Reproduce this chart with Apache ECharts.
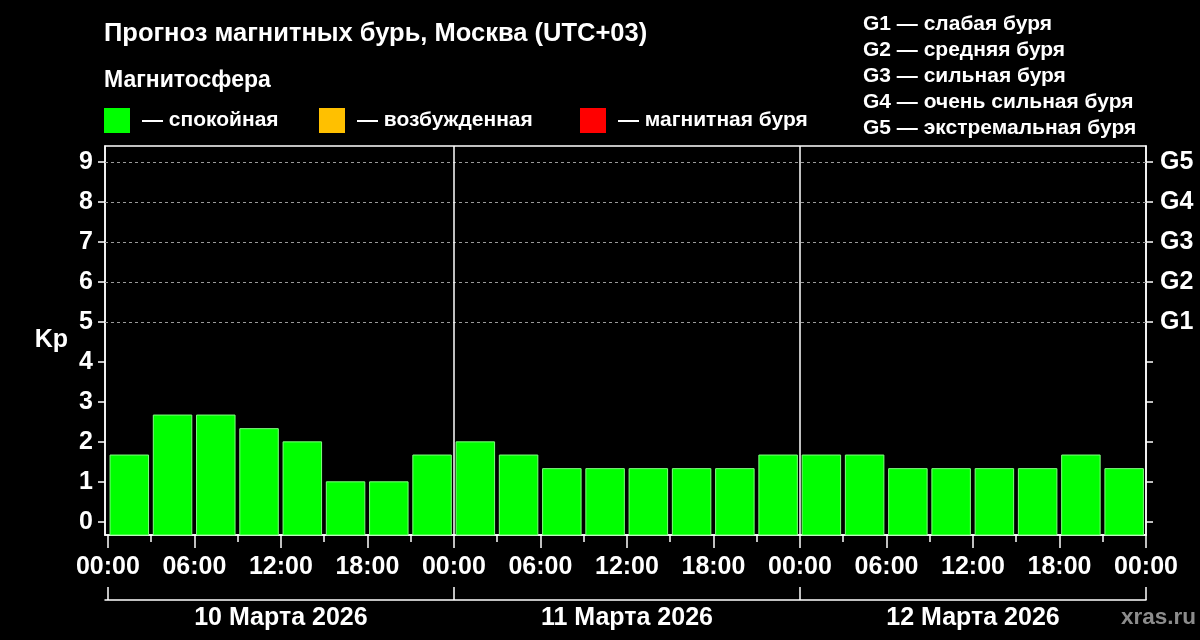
<!DOCTYPE html>
<html>
<head>
<meta charset="utf-8">
<script src="https://cdn.jsdelivr.net/npm/echarts@6/dist/echarts.min.js"></script>
<style>
  html, body { margin: 0; padding: 0; background: #000; }
  #chart { width: 1200px; height: 640px; }
</style>
</head>
<body>
<div id="chart"></div>
<script>
// Kp по трёхчасовым интервалам
const kpDay10 = [1.67, 2.67, 2.67, 2.33, 2.0, 1.0, 1.0, 1.67]
const kpDay11 = [2.0, 1.67, 1.33, 1.33, 1.33, 1.33, 1.33, 1.67]
const kpDay12 = [1.67, 1.67, 1.33, 1.33, 1.33, 1.33, 1.67, 1.33]
const dayLabels = ['10 Марта 2026', '11 Марта 2026', '12 Марта 2026']
const hourLabels = ['00:00', '06:00', '12:00', '18:00']
const kpTicks = [0, 1, 2, 3, 4, 5, 6, 7, 8, 9]
const gLevels = ['G1', 'G2', 'G3', 'G4', 'G5']
const gKp = [5, 6, 7, 8, 9]
const gNames = ['G1 — слабая буря', 'G2 — средняя буря', 'G3 — сильная буря', 'G4 — очень сильная буря', 'G5 — экстремальная буря']
const stateNames = ['— спокойная', '— возбужденная', '— магнитная буря']
const stateColors = ['#00ff00', '#ffc000', '#ff0000']

const font = "'Liberation Sans', Arial, sans-serif"
const xMin = -0.2
const xMax = 72
const yMin = -0.33
const yMax = 9.4

const allKp = kpDay10.concat(kpDay11, kpDay12)
const barData = allKp.map((v, i) => [i * 3, v])

const hourTicks = []
for (let h = 0; h <= 72; h += 6) hourTicks.push(h)
const minorTicks = []
for (let h = 3; h < 72; h += 6) minorTicks.push(h)
const dayEdges = [0, 24, 48, 72]
const dayCenters = [12, 36, 60]
const legendLeft = [104, 319, 580]

function kpColor(v) {
  if (v < 4) return stateColors[0]
  if (v < 5) return stateColors[1]
  return stateColors[2]
}

const chart = echarts.init(document.getElementById('chart'))

const txt = { color: '#fff', fontFamily: font, fontWeight: 'bold' }
const white = { color: '#fff', width: 1.5 }

const option = {
  backgroundColor: '#000',
  animation: false,
  title: [
    { text: 'Прогноз магнитных бурь, Москва (UTC+03)', left: 104, top: 21, padding: 0,
      textStyle: { ...txt, fontSize: 25.5 } },
    { text: 'Магнитосфера', left: 104, top: 69, padding: 0,
      textStyle: { ...txt, fontSize: 23 } },
    { text: gNames.join('\n'), left: 863, top: 11, padding: 0,
      textStyle: { ...txt, fontSize: 21, lineHeight: 26 } },
    { text: 'xras.ru', right: 4, top: 606, padding: 0,
      textStyle: { color: '#8c8c8c', fontFamily: font, fontWeight: 'bold', fontSize: 22.5 } }
  ],
  legend: stateNames.map((n, i) => ({
    left: legendLeft[i],
    top: 108,
    padding: 0,
    itemWidth: 26,
    itemHeight: 25,
    icon: 'rect',
    selectedMode: false,
    textStyle: { ...txt, fontSize: 21, padding: [0, 0, 0, 7] },
    data: [n]
  })),
  grid: {
    left: 105, right: 54, top: 146, bottom: 105,
    show: true, borderColor: '#fff', borderWidth: 1.5
  },
  xAxis: [
    {
      type: 'value', min: xMin, max: xMax, position: 'bottom',
      axisLine: { show: true, onZero: false, lineStyle: white },
      axisTick: { show: true, customValues: hourTicks, length: 13, lineStyle: white },
      axisLabel: { customValues: hourTicks, margin: 20, ...txt, fontSize: 25,
        formatter: v => hourLabels[(v / 6) % 4] },
      splitLine: { show: false }
    },
    {
      type: 'value', min: xMin, max: xMax, position: 'bottom',
      axisLine: { show: false, onZero: false },
      axisTick: { show: true, customValues: minorTicks, length: 7, lineStyle: white },
      axisLabel: { show: false },
      splitLine: { show: false }
    },
    {
      type: 'value', min: xMin, max: xMax, position: 'bottom', offset: 65,
      axisLine: { show: true, onZero: false, lineStyle: white },
      axisTick: { show: true, inside: true, customValues: dayEdges, length: 13, lineStyle: white },
      axisLabel: { customValues: dayCenters, margin: 6, ...txt, fontSize: 25,
        formatter: v => dayLabels[(v - 12) / 24] },
      splitLine: { show: false }
    }
  ],
  yAxis: [
    {
      type: 'value', min: yMin, max: yMax, position: 'left',
      name: 'Kp', nameLocation: 'middle', nameRotate: 0, nameGap: 37,
      nameTextStyle: { ...txt, fontSize: 25 },
      axisLine: { show: true, onZero: false, lineStyle: white },
      axisTick: { show: true, customValues: kpTicks, length: 7, lineStyle: white },
      axisLabel: { customValues: kpTicks, margin: 12, ...txt, fontSize: 25 },
      splitLine: { show: false }
    },
    {
      type: 'value', min: yMin, max: yMax, position: 'right',
      axisLine: { show: true, onZero: false, lineStyle: white },
      axisTick: { show: true, customValues: kpTicks, length: 7, lineStyle: white },
      axisLabel: { customValues: gKp, margin: 14, ...txt, fontSize: 25,
        formatter: v => gLevels[v - 5] },
      splitLine: { show: false }
    }
  ],
  series: [
    {
      type: 'custom',
      xAxisIndex: 0,
      yAxisIndex: 0,
      data: barData,
      encode: { x: 0, y: 1 },
      renderItem: (params, api) => {
        const start = api.value(0)
        const v = api.value(1)
        const p0 = api.coord([start + 0.15, v])
        const p1 = api.coord([start + 2.82, yMin])
        return {
          type: 'rect',
          shape: { x: p0[0], y: p0[1], width: p1[0] - p0[0], height: p1[1] - p0[1] },
          style: { fill: kpColor(v), stroke: '#80ff80', lineWidth: 1 }
        }
      },
      markLine: {
        silent: true,
        symbol: 'none',
        label: { show: false },
        data: [
          ...gKp.map(k => ({ yAxis: k, lineStyle: { color: '#9a9a9a', type: [3, 3], width: 1 } })),
          ...dayEdges.slice(1, 3).map(d => ({ xAxis: d, lineStyle: { color: '#fff', type: 'solid', width: 1.5 } }))
        ]
      }
    },
    // пустые серии для легенды
    ...stateNames.map((n, i) => ({ name: n, type: 'bar', data: [], itemStyle: { color: stateColors[i] } }))
  ]
}

chart.setOption(option)
</script>
</body>
</html>
